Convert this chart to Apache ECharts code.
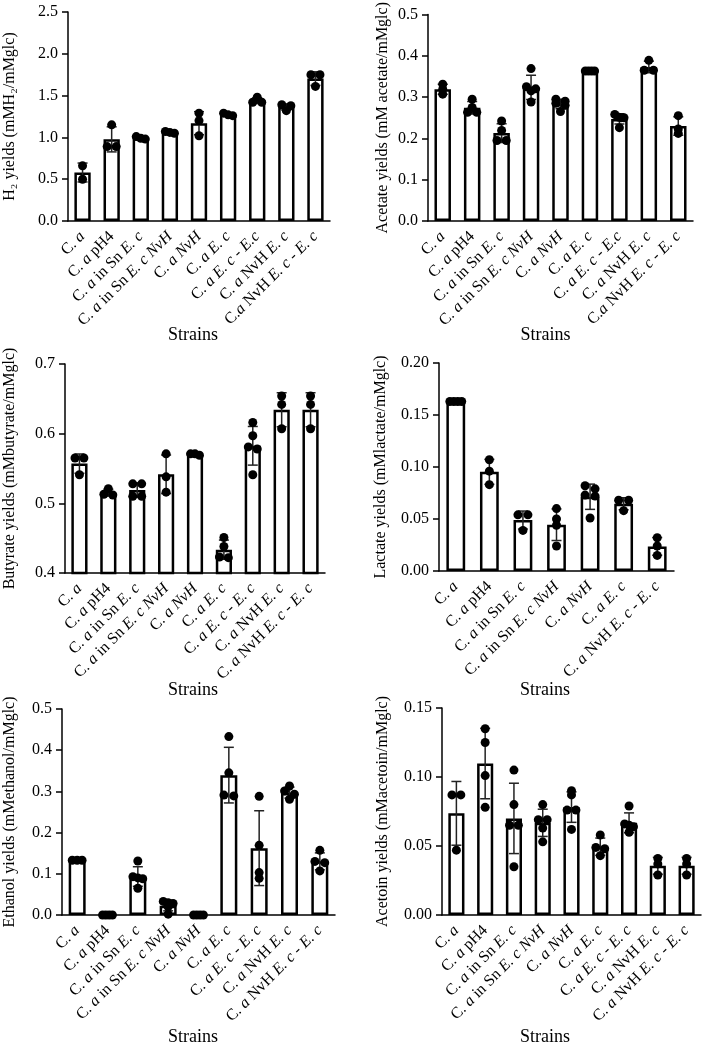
<!DOCTYPE html>
<html>
<head>
<meta charset="utf-8">
<script src="https://cdn.jsdelivr.net/npm/echarts@6/dist/echarts.min.js"></script>
<style>
  html, body { margin: 0; padding: 0; background: #fff; }
  #chart { width: 708px; height: 1047px; }
</style>
</head>
<body>
<div id="chart"></div>
<script>
// category labels ({i|...} = italic)
var strainsA = ['C. {i|a}', 'C. {i|a} pH4', 'C. {i|a} in Sn {i|E. c}', 'C. {i|a} in Sn {i|E. c NvH}', 'C. {i|a NvH}',
    'C. {i|a E. c}', 'C. {i|a E. c - E.c}', 'C. {i|a} NvH {i|E. c}', 'C.{i|a} NvH {i|E. c - E. c}'];
var strainsB = ['C. {i|a}', 'C. {i|a} pH4', 'C. {i|a} in Sn {i|E. c}', 'C. {i|a} in Sn {i|E. c NvH}', 'C. {i|a NvH}',
    'C. {i|a E. c}', 'C. {i|a E. c - E. c}', 'C. {i|a} NvH {i|E. c}', 'C. {i|a} NvH {i|E. c - E. c}'];
var strainsC = ['C. {i|a}', 'C. {i|a} pH4', 'C. {i|a} in Sn {i|E. c}', 'C. {i|a} in Sn {i|E. c NvH}', 'C. {i|a NvH}',
    'C. {i|a E. c}', 'C. {i|a} NvH {i|E. c - E. c}'];

// replicate values per strain
var h2Yields = [
    [0.66, 0.50], [1.15, 0.89, 0.89], [0.98, 1.01, 0.99], [1.05, 1.07, 1.06], [1.29, 1.20, 1.02],
    [1.26, 1.29, 1.27], [1.42, 1.48, 1.42], [1.32, 1.39, 1.38], [1.75, 1.61, 1.75]
];
var acetateYields = [
    [0.331, 0.307, 0.319], [0.295, 0.275, 0.263, 0.263], [0.242, 0.219, 0.195, 0.195],
    [0.369, 0.325, 0.315, 0.320, 0.288], [0.295, 0.290, 0.280, 0.265, 0.285], [0.363, 0.363, 0.363, 0.363],
    [0.258, 0.252, 0.250, 0.226, 0.250], [0.389, 0.365, 0.365], [0.255, 0.223, 0.212]
];
var butyrateYields = [
    [0.565, 0.565, 0.541], [0.521, 0.513, 0.512], [0.528, 0.528, 0.510, 0.510], [0.571, 0.538, 0.516],
    [0.569, 0.571, 0.571], [0.451, 0.438, 0.422, 0.423], [0.616, 0.597, 0.581, 0.578, 0.541],
    [0.654, 0.642, 0.607], [0.654, 0.642, 0.607]
];
var lactateYields = [
    [0.163, 0.163, 0.163, 0.163], [0.107, 0.096, 0.083], [0.054, 0.054, 0.039], [0.060, 0.050, 0.044, 0.024],
    [0.082, 0.079, 0.072, 0.073, 0.051], [0.068, 0.068, 0.058], [0.032, 0.024, 0.015]
];
var ethanolYields = [
    [0.133, 0.133, 0.133], [0, 0, 0, 0], [0.131, 0.093, 0.090, 0.088, 0.065], [0.033, 0.028, 0.030, 0.020, 0.002],
    [0, 0, 0, 0], [0.433, 0.345, 0.289, 0.291], [0.288, 0.169, 0.103, 0.089], [0.313, 0.301, 0.293, 0.281],
    [0.157, 0.130, 0.127, 0.107]
];
var acetoinYields = [
    [0.087, 0.087, 0.047], [0.135, 0.125, 0.101, 0.078], [0.105, 0.080, 0.065, 0.035, 0.065],
    [0.080, 0.069, 0.069, 0.063, 0.053], [0.090, 0.087, 0.076, 0.076, 0.062], [0.058, 0.049, 0.048, 0.043],
    [0.079, 0.065, 0.066, 0.064, 0.060], [0.041, 0.037, 0.029], [0.041, 0.037, 0.029]
];

var yNames = ['H\u2082 yields (mMH\u2082/mMglc)', 'Acetate yields (mM acetate/mMglc)', 'Butyrate yields (mMbutyrate/mMglc)',
    'Lactate yields (mMlactate/mMglc)', 'Ethanol yields (mMethanol/mMglc)', 'Acetoin yields (mMacetoin/mMglc)'];

var FONT = 'Liberation Serif, Times New Roman, serif';

var panels = [
    { cats: strainsA, reps: h2Yields, min: 0, max: 2.5, step: 0.5, dec: 1,
      grid: { left: 68, top: 12, width: 262, height: 209 }, yGap: 50, xGap: 105, xPad: 12 },
    { cats: strainsA, reps: acetateYields, min: 0, max: 0.5, step: 0.1, dec: 1,
      grid: { left: 428, top: 12, width: 265, height: 209 }, yGap: 37, xGap: 105, xPad: 30 },
    { cats: strainsB, reps: butyrateYields, min: 0.4, max: 0.7, step: 0.1, dec: 1,
      grid: { left: 65, top: 364, width: 260, height: 209 }, yGap: 47, xGap: 108, xPad: 4 },
    { cats: strainsC, reps: lactateYields, min: 0, max: 0.2, step: 0.05, dec: 2,
      grid: { left: 439, top: 363, width: 235, height: 208 }, yGap: 50, xGap: 110, xPad: 23 },
    { cats: strainsB, reps: ethanolYields, min: 0, max: 0.5, step: 0.1, dec: 1,
      grid: { left: 62, top: 709, width: 273, height: 208 }, yGap: 44, xGap: 113, xPad: 11 },
    { cats: strainsB, reps: acetoinYields, min: 0, max: 0.15, step: 0.05, dec: 2,
      grid: { left: 442, top: 708, width: 259, height: 209 }, yGap: 51, xGap: 113, xPad: 53 }
];

function mean(a) { return a.reduce(function (s, v) { return s + v; }, 0) / a.length; }
function sd(a) {
    if (a.length < 2) return 0;
    var m = mean(a);
    return Math.sqrt(a.reduce(function (s, v) { return s + (v - m) * (v - m); }, 0) / (a.length - 1));
}

// spread points that sit on the same level side by side, centred on the bar
function swarm(ys, spread) {
    var idx = ys.map(function (y, i) { return i; }).sort(function (a, b) { return ys[a] - ys[b]; });
    var rows = [], cur = [];
    idx.forEach(function (i) {
        if (cur.length && ys[i] - ys[cur[0]] > 4) { rows.push(cur); cur = []; }
        cur.push(i);
    });
    if (cur.length) rows.push(cur);
    var off = [];
    rows.forEach(function (r) {
        var n = r.length, s = n > 1 ? Math.min(10, spread / (n - 1)) : 0;
        r.forEach(function (i, j) { off[i] = (j - (n - 1) / 2) * s; });
    });
    return off;
}

var grids = [], xAxes = [], yAxes = [], series = [];
panels.forEach(function (p, g) {
    grids.push(p.grid);
    xAxes.push({
        type: 'category', gridIndex: g, data: p.cats,
        name: 'Strains', nameLocation: 'middle', nameGap: p.xGap, nameMoveOverlap: false,
        nameTextStyle: { fontFamily: FONT, fontSize: 18, color: '#000', padding: [0, p.xPad, 0, 0] },
        axisLine: { lineStyle: { color: '#000', width: 1.5 } },
        axisTick: { alignWithLabel: true, length: 6, lineStyle: { color: '#000', width: 1.5 } },
        axisLabel: {
            interval: 0, rotate: 45, margin: 13, color: '#000', fontFamily: FONT, fontSize: 16,
            rich: { i: { fontStyle: 'italic', fontFamily: FONT, fontSize: 16, color: '#000' } }
        }
    });
    yAxes.push({
        type: 'value', gridIndex: g, min: p.min, max: p.max, interval: p.step,
        name: yNames[g], nameLocation: 'middle', nameGap: p.yGap, nameMoveOverlap: false,
        nameTextStyle: { fontFamily: FONT, fontSize: 16, color: '#000' },
        splitLine: { show: false },
        axisLine: { show: true, lineStyle: { color: '#000', width: 1.5 } },
        axisTick: { show: true, length: 6, lineStyle: { color: '#000', width: 1.5 } },
        axisLabel: {
            margin: 10, color: '#000', fontFamily: FONT, fontSize: 16,
            formatter: function (v) { return v.toFixed(p.dec); }
        }
    });

    var means = p.reps.map(mean);
    series.push({
        type: 'bar', xAxisIndex: g, yAxisIndex: g, barWidth: '56%', z: 2,
        itemStyle: { color: '#fff', borderColor: '#000', borderWidth: 2.5 },
        data: means
    });
    series.push({
        type: 'custom', xAxisIndex: g, yAxisIndex: g, z: 3, clip: true,
        data: p.reps.map(function (r, i) { return [i, means[i], sd(r)]; }),
        renderItem: function (params, api) {
            var c = api.value(0), m = api.value(1), s = api.value(2);
            if (!s) return null;
            var hi = api.coord([c, m + s]), lo = api.coord([c, m - s]), w = 5;
            var st = { stroke: '#222', lineWidth: 1.5 };
            return { type: 'group', children: [
                { type: 'line', shape: { x1: hi[0], y1: hi[1], x2: lo[0], y2: lo[1] }, style: st },
                { type: 'line', shape: { x1: hi[0] - w, y1: hi[1], x2: hi[0] + w, y2: hi[1] }, style: st },
                { type: 'line', shape: { x1: lo[0] - w, y1: lo[1], x2: lo[0] + w, y2: lo[1] }, style: st }
            ] };
        }
    });
    var pts = [];
    p.reps.forEach(function (r, i) { r.forEach(function (v, k) { pts.push([i, v, k]); }); });
    series.push({
        type: 'custom', xAxisIndex: g, yAxisIndex: g, z: 4,
        data: pts,
        renderItem: function (params, api) {
            var c = api.value(0), k = api.value(2);
            var band = api.size([1, 0])[0];
            var ys = p.reps[c].map(function (v) { return api.coord([c, v])[1]; });
            var off = swarm(ys, band * 0.62 - 9);
            var pt = api.coord([c, api.value(1)]);
            return { type: 'circle', shape: { cx: pt[0] + off[k], cy: pt[1], r: 4.5 }, style: { fill: '#000' } };
        }
    });
});

var chartDom = document.getElementById('chart');
var myChart = echarts.init(chartDom);
var option = {
    backgroundColor: '#fff',
    animation: false,
    grid: grids,
    xAxis: xAxes,
    yAxis: yAxes,
    series: series
};
myChart.setOption(option);
</script>
</body>
</html>
